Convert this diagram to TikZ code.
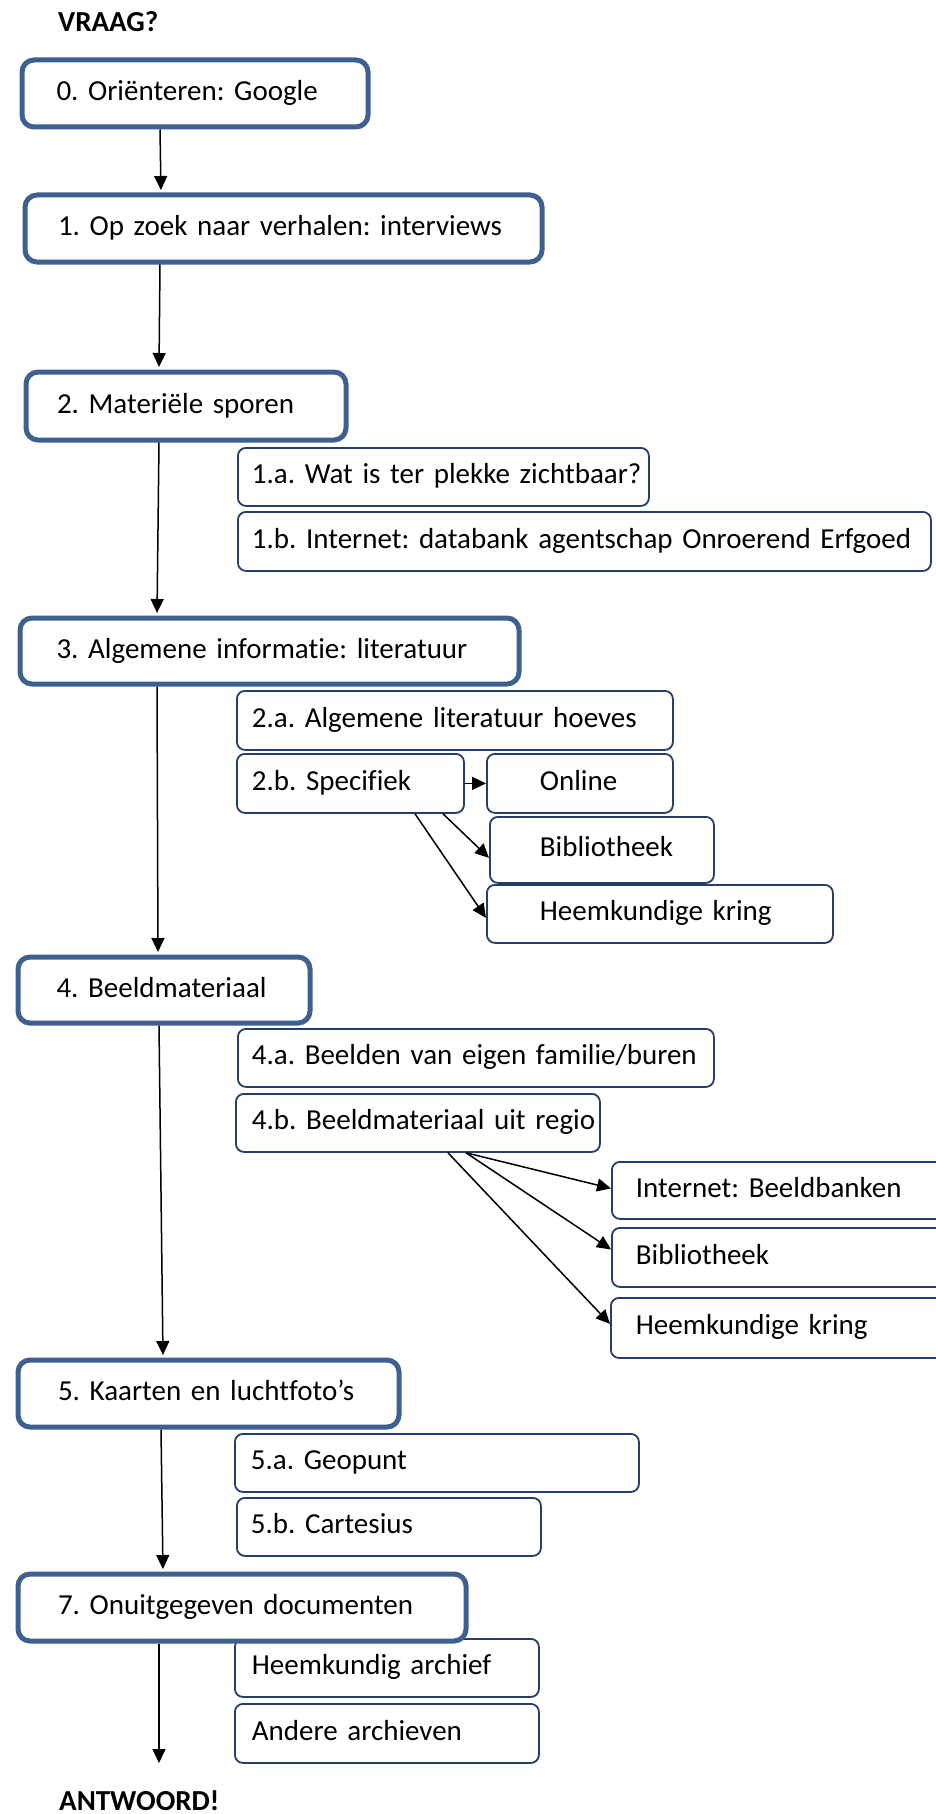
\documentclass[tikz,border=0pt]{standalone}
\usepackage{fontspec}
\setmainfont{Carlito}[Ligatures=NoCommon]
\usetikzlibrary{arrows.meta,calc}
\definecolor{mainblue}{RGB}{62,96,142}
\definecolor{subblue}{RGB}{38,62,104}
\begin{document}
\frenchspacing
\begin{tikzpicture}[x=1pt,y=-1pt,
  every node/.style={font={\fontsize{29}{34}\selectfont\hyphenpenalty 10000\relax}},
  mainbox/.style={draw=mainblue, line width=5pt, rounded corners=12pt, fill=white, inner xsep=0pt, inner ysep=0pt, align=left, anchor=north west, text height=20pt, text depth=6pt},
  subbox/.style={draw=subblue, line width=1.8pt, rounded corners=8pt, fill=white, inner xsep=0pt, inner ysep=0pt, align=left, anchor=north west, text height=20pt, text depth=6pt},
  arr/.style={line width=1.5pt, -{Triangle[length=14pt,width=13pt]}},
  headtext/.style={font={\fontsize{29}{34}\selectfont\bfseries}, anchor=base west, inner sep=0pt}
]
\useasboundingbox (0,0) rectangle (936,1814);
\fill[white] (0,0) rectangle (936,1814);
\clip (0,0) rectangle (936,1814);

% headings
\node[headtext] (vraag) at (58,32) {VRAAG?};
\node[headtext] (antw) at (59,1810) {ANTWOORD!};

% sub boxes
\node[subbox, text width=411pt, minimum height=58pt] (s1a) at (237,447) {\hspace*{14pt}1.a. Wat is ter plekke zichtbaar?};
\node[subbox, text width=693pt, minimum height=59pt] (s1b) at (237,511) {\hspace*{14pt}1.b. Internet: databank agentschap Onroerend Erfgoed};
\node[subbox, text width=436pt, minimum height=59pt] (s2a) at (236,690) {\hspace*{15pt}2.a. Algemene literatuur hoeves};
\node[subbox, text width=227pt, minimum height=59pt] (s2b) at (236,753) {\hspace*{15pt}2.b. Specifiek};
\node[subbox, text width=186pt, minimum height=59pt] (onl) at (486,753) {\hspace*{53pt}Online};
\node[subbox, text width=224pt, minimum height=66pt] (bib1) at (489,816) {\hspace*{50pt}Bibliotheek};
\node[subbox, text width=346pt, minimum height=58pt] (heem1) at (486,884) {\hspace*{53pt}Heemkundige kring};
\node[subbox, text width=476pt, minimum height=58pt] (s4a) at (237,1028) {\hspace*{14pt}4.a. Beelden van eigen familie/buren};
\node[subbox, text width=364pt, minimum height=58pt] (s4b) at (235,1093) {\hspace*{16pt}4.b. Beeldmateriaal uit regio};
\node[subbox, text width=350pt, minimum height=57pt] (inet) at (611,1161) {\hspace*{24pt}Internet: Beeldbanken};
\node[subbox, text width=350pt, minimum height=59pt] (bib2) at (611,1227) {\hspace*{24pt}Bibliotheek};
\node[subbox, text width=350pt, minimum height=60pt] (heem2) at (610,1297) {\hspace*{25pt}Heemkundige kring};
\node[subbox, text width=404pt, minimum height=58pt] (s5a) at (234,1433) {\hspace*{16pt}5.a. Geopunt};
\node[subbox, text width=304pt, minimum height=58pt] (s5b) at (236,1497) {\hspace*{14pt}5.b. Cartesius};
\node[subbox, text width=304pt, minimum height=58pt] (arch1) at (234,1638) {\hspace*{17pt}Heemkundig archief};
\node[subbox, text width=304pt, minimum height=59pt] (arch2) at (234,1703) {\hspace*{17pt}Andere archieven};

% main boxes
\node[mainbox, text width=346pt, minimum height=67pt] (b0) at (19.5,57.5) {\hspace*{34.5pt}0. Oriënteren: Google};
\node[mainbox, text width=517pt, minimum height=67pt] (b1) at (22.5,192.5) {\hspace*{33pt}1. Op zoek naar verhalen: interviews};
\node[mainbox, text width=320pt, minimum height=68pt] (b2) at (23.5,369.5) {\hspace*{31pt}2. Materiële sporen};
\node[mainbox, text width=499pt, minimum height=66pt] (b3) at (17.5,615.5) {\hspace*{36.5pt}3. Algemene informatie: literatuur};
\node[mainbox, text width=292pt, minimum height=66pt] (b4) at (15.5,954.5) {\hspace*{38.5pt}4. Beeldmateriaal};
\node[mainbox, text width=381pt, minimum height=67pt] (b5) at (15.5,1357.5) {\hspace*{40pt}5. Kaarten en luchtfoto’s};
\node[mainbox, text width=448pt, minimum height=67pt] (b7) at (15.5,1571.5) {\hspace*{40pt}7. Onuitgegeven documenten};

\coordinate (aend) at (159,1763);

% main arrows
\draw[arr, shorten >=2.5pt] ($(b0.south west)+(140.5,0)$) -- ($(b1.north west)+(138.5,0)$);
\draw[arr, shorten >=2.5pt] ($(b1.south west)+(137.5,0)$) -- ($(b2.north west)+(135.5,0)$);
\draw[arr, shorten >=2.5pt] ($(b2.south west)+(135.5,0)$) -- ($(b3.north west)+(139.5,0)$);
\draw[arr, shorten >=2.5pt] ($(b3.south west)+(139.5,0)$) -- ($(b4.north west)+(142.5,0)$);
\draw[arr, shorten >=2.5pt] ($(b4.south west)+(143.5,0)$) -- ($(b5.north west)+(147.5,0)$);
\draw[arr, shorten >=2.5pt] ($(b5.south west)+(145.5,0)$) -- ($(b7.north west)+(147.5,0)$);
\draw[arr] ($(b7.south west)+(143.5,0)$) -- (aend);

% sub arrows
\draw[arr] (s2b.east) -- (onl.west);
\draw[arr] ($(s2b.south west)+(207,0)$) -- ($(bib1.west)+(0,8)$);
\draw[arr] ($(s2b.south west)+(179,0)$) -- ($(heem1.west)+(0,4)$);
\draw[arr] ($(s4b.south west)+(231,0)$) -- ($(inet.west)+(0,-2)$);
\draw[arr] ($(s4b.south west)+(231,0)$) -- ($(bib2.west)+(0,-8)$);
\draw[arr] ($(s4b.south west)+(213,0)$) -- ($(heem2.west)+(0,-4)$);
\end{tikzpicture}
\end{document}
